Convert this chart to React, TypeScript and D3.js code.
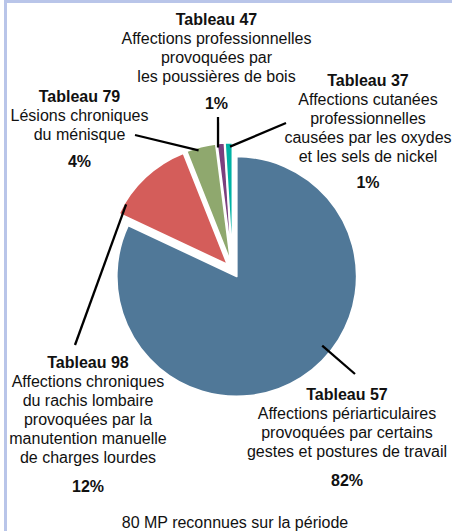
import React, { useRef, useEffect } from 'react';
import * as d3 from 'd3';

// Données du graphique
const categories = ["Tableau 57", "Tableau 98", "Tableau 79", "Tableau 47", "Tableau 37"];
const shares = [82, 12, 4, 1, 1];
const pctLabels = ["82%", "12%", "4%", "1%", "1%"];
const descriptions = [
    ["Affections périarticulaires", "provoquées par certains", "gestes et postures de travail"],
    ["Affections chroniques", "du rachis lombaire", "provoquées par la", "manutention manuelle", "de charges lourdes"],
    ["Lésions chroniques", "du ménisque"],
    ["Affections professionnelles", "provoquées par", "les poussières de bois"],
    ["Affections cutanées", "professionnelles", "causées par les oxydes", "et les sels de nickel"],
];
const colors = ["#507898", "#d45d5a", "#8fa86e", "#7b3f7e", "#00b2a5"];
const caption = "80 MP reconnues sur la période";

// Placement des étiquettes : centre x, ligne de base du titre, ligne du %
// pointer = angle (degrés) et rayon du début du trait, end = fin du trait
const labelLayout = [
    { x: 347, y: 400, pctY: 486, pointer: [129, 110], end: [355, 374] },
    { x: 88, y: 368, pctY: 492, pointer: [300.7, 118], end: [75, 345] },
    { x: 79.5, y: 102, pctY: 167, pointer: [344, 117], end: [135, 135] },
    { x: 216.5, y: 25, pctY: 109, pointer: [353.1, 116], end: [218, 117] },
    { x: 368, y: 86, pctY: 188, pointer: [358.8, 116], end: [286, 123] },
];

const ExplodedPie = () => {
    const ref = useRef(null);

    useEffect(() => {
        document.body.style.margin = "0";
        const svg = d3.select(ref.current);
        svg.selectAll("*").remove();

        const width = 452, height = 531;
        const cx = 232.7, cy = 270.1; // centre du camembert
        const radius = 120;
        const explode = 7.5;
        const lineH = 19;

        // cadre (haut + gauche)
        svg.append("rect").attr("x", 4).attr("y", 0).attr("width", width - 4).attr("height", 3).attr("fill", "#b9c5e9");
        svg.append("rect").attr("x", 4).attr("y", 0).attr("width", 3).attr("height", height).attr("fill", "#b9c5e9");

        const pie = d3.pie<number>().sort(null).value(d => d).startAngle(0).endAngle(2 * Math.PI);
        const arcs = pie(shares);
        const arc = d3.arc<any>().innerRadius(0).outerRadius(radius);

        const offset = (a: any) => {
            const mid = (a.startAngle + a.endAngle) / 2;
            return [cx + Math.sin(mid) * explode, cy - Math.cos(mid) * explode];
        };

        const g = svg.append("g");
        g.selectAll("path")
            .data(arcs)
            .join("path")
            .attr("transform", d => `translate(${offset(d)[0]},${offset(d)[1]})`)
            .attr("d", arc)
            .attr("fill", (d, i) => colors[i])
            .attr("stroke", "#fff")
            .attr("stroke-width", 1.8)
            .attr("stroke-linejoin", "round");

        // traits de rappel
        arcs.forEach((a, i) => {
            const [ox, oy] = offset(a);
            const [ang, r] = labelLayout[i].pointer;
            const t = ang * Math.PI / 180;
            svg.append("line")
                .attr("x1", ox + Math.sin(t) * r)
                .attr("y1", oy - Math.cos(t) * r)
                .attr("x2", labelLayout[i].end[0])
                .attr("y2", labelLayout[i].end[1])
                .attr("stroke", "#000")
                .attr("stroke-width", 2.3);
        });

        // étiquettes
        const font = "'Liberation Sans', Arial, Helvetica, sans-serif";
        categories.forEach((cat, i) => {
            const L = labelLayout[i];
            const txt = svg.append("g")
                .style("font-family", font)
                .style("font-size", "16px")
                .attr("fill", "#111")
                .attr("text-anchor", "middle");
            txt.append("text").attr("x", L.x).attr("y", L.y).attr("font-weight", "bold").text(cat);
            descriptions[i].forEach((line, j) => {
                txt.append("text").attr("x", L.x).attr("y", L.y + (j + 1) * lineH).text(line);
            });
            txt.append("text").attr("x", L.x).attr("y", L.pctY).attr("font-weight", "bold").text(pctLabels[i]);
        });

        svg.append("text")
            .attr("x", 235)
            .attr("y", 528)
            .attr("text-anchor", "middle")
            .style("font-family", font)
            .style("font-size", "16px")
            .attr("fill", "#111")
            .text(caption);
    }, []);

    return <svg ref={ref} width={452} height={531} style={{ display: "block" }} />;
};

export default function App() {
    return <ExplodedPie />;
}
